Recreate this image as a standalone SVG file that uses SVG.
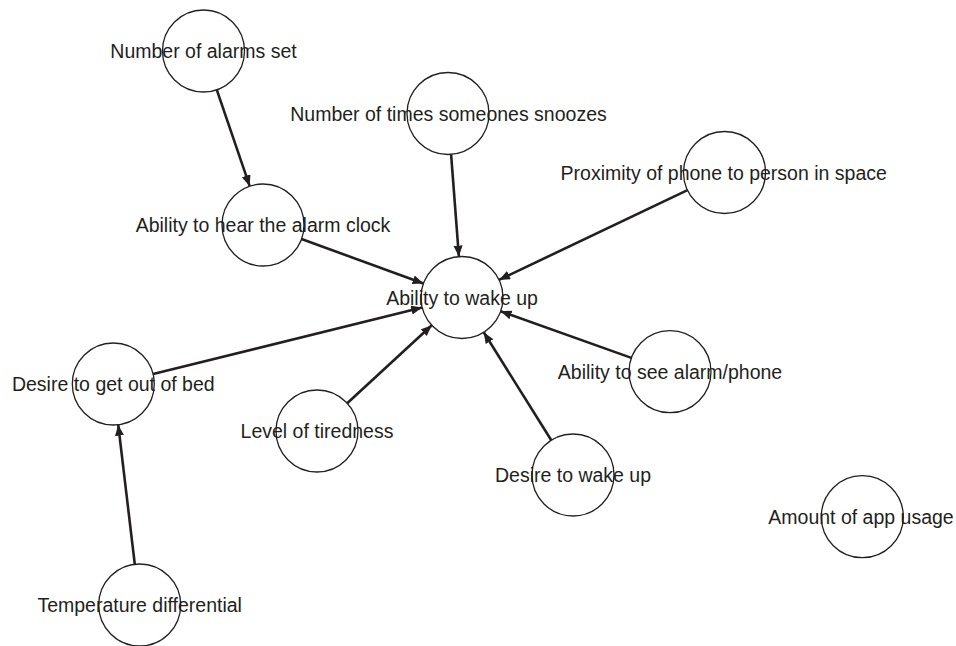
<svg xmlns="http://www.w3.org/2000/svg" width="956" height="646" viewBox="0 0 956 646">
<style>
.n circle{fill:#fff;stroke:#231f20;stroke-width:1.3}
.n text{font-family:"Liberation Sans",Arial,sans-serif;font-size:19.5px;fill:#231f20;text-anchor:middle}
#edges line{stroke:#231f20;stroke-width:2.6;marker-end:url(#ah)}
</style>
<defs>
<marker id="ah" markerUnits="userSpaceOnUse" markerWidth="12" markerHeight="10" refX="11" refY="4.5" orient="auto">
<path d="M0,0 L11,4.5 L0,9 z" fill="#231f20"/>
</marker>
</defs>
<rect width="956" height="646" fill="#fff"/>
<g id="edges">
<line x1="216.8" y1="89.8" x2="249.7" y2="186.2"/>
<line x1="451.1" y1="154.4" x2="458.9" y2="256.6"/>
<line x1="687.5" y1="190.1" x2="499.0" y2="279.9"/>
<line x1="301.5" y1="239.0" x2="423.5" y2="283.5"/>
<line x1="153.1" y1="374.1" x2="422.2" y2="307.4"/>
<line x1="347.2" y1="403.2" x2="431.8" y2="325.3"/>
<line x1="551.3" y1="440.2" x2="483.7" y2="332.3"/>
<line x1="631.4" y1="357.9" x2="500.6" y2="311.3"/>
<line x1="134.8" y1="564.3" x2="118.2" y2="424.7"/>
</g>
<g id="n-alarms" class="n"><circle cx="203.5" cy="51" r="41"/><text x="203.5" y="58">Number of alarms set</text></g>
<g id="n-snoozes" class="n"><circle cx="448" cy="113.5" r="41"/><text x="448.5" y="121">Number of times someones snoozes</text></g>
<g id="n-proximity" class="n"><circle cx="724.5" cy="172.5" r="41"/><text x="723.7" y="180">Proximity of phone to person in space</text></g>
<g id="n-hear" class="n"><circle cx="263" cy="225" r="41"/><text x="263" y="232">Ability to hear the alarm clock</text></g>
<g id="n-wake" class="n"><circle cx="462" cy="297.5" r="41"/><text x="462" y="304.5">Ability to wake up</text></g>
<g id="n-outofbed" class="n"><circle cx="113.3" cy="384" r="41"/><text x="113.3" y="391">Desire to get out of bed</text></g>
<g id="n-see" class="n"><circle cx="670" cy="371.7" r="41"/><text x="670" y="379">Ability to see alarm/phone</text></g>
<g id="n-tired" class="n"><circle cx="317" cy="431" r="41"/><text x="317" y="438">Level of tiredness</text></g>
<g id="n-desirewake" class="n"><circle cx="573" cy="475" r="41"/><text x="573" y="482">Desire to wake up</text></g>
<g id="n-app" class="n"><circle cx="862.3" cy="516.7" r="41"/><text x="861" y="524">Amount of app usage</text></g>
<g id="n-temp" class="n"><circle cx="139.7" cy="605" r="41"/><text x="139.7" y="612">Temperature differential</text></g>
</svg>
